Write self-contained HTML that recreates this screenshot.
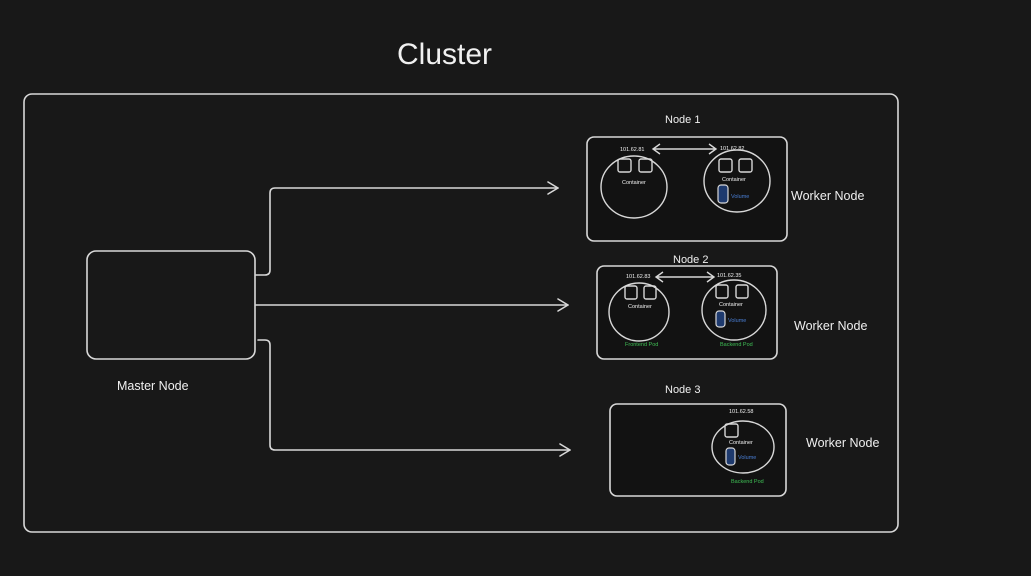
<!DOCTYPE html>
<html><head><meta charset="utf-8"><style>
html,body{margin:0;padding:0;background:#181818;}
svg{display:block;}
text{font-family:"Liberation Sans",sans-serif;}
</style></head><body>
<svg width="1031" height="576" viewBox="0 0 1031 576" xmlns="http://www.w3.org/2000/svg">
<rect width="1031" height="576" fill="#181818"/>
<g fill="none" stroke="#d8d8d8" stroke-width="1.6" stroke-linecap="round" stroke-linejoin="round">
<rect x="24" y="94" width="874" height="438" rx="8"/>
<rect x="87" y="251" width="168" height="108" rx="9"/>
<path d="M256 275 H265 Q270 275 270 270 V193 Q270 188 275 188 H558"/>
<path d="M548 182 L558 188 L548 194"/>
<path d="M256 305 H568"/>
<path d="M558 299 L568 305 L558 311"/>
<path d="M258 340 H265 Q270 340 270 345 V445 Q270 450 275 450 H570"/>
<path d="M560 444 L570 450 L560 456"/>
</g>
<g stroke="#d8d8d8" stroke-width="1.6" fill="#121212">
<rect x="587" y="137" width="200" height="104" rx="7"/>
<rect x="597" y="266" width="180" height="93" rx="7"/>
<rect x="610" y="404" width="176" height="92" rx="7"/>
</g>
<g fill="none" stroke="#d8d8d8" stroke-width="1.4">
<ellipse cx="634" cy="187" rx="33" ry="31"/>
<ellipse cx="737" cy="181" rx="33" ry="31"/>
<ellipse cx="639" cy="312" rx="30" ry="29"/>
<ellipse cx="734" cy="310" rx="32" ry="30"/>
<ellipse cx="743" cy="447" rx="31" ry="26"/>
<rect x="618" y="159" width="13" height="13" rx="2"/>
<rect x="639" y="159" width="13" height="13" rx="2"/>
<rect x="719" y="159" width="13" height="13" rx="2"/>
<rect x="739" y="159" width="13" height="13" rx="2"/>
<rect x="625" y="286" width="12" height="13" rx="2"/>
<rect x="644" y="286" width="12" height="13" rx="2"/>
<rect x="716" y="285" width="12" height="13" rx="2"/>
<rect x="736" y="285" width="12" height="13" rx="2"/>
<rect x="725" y="424" width="13" height="13" rx="2"/>
<path d="M653 149 H716 M660 144 L653 149 L660 154 M709 144 L716 149 L709 154"/>
<path d="M656 277 H714 M663 272 L656 277 L663 282 M707 272 L714 277 L707 282"/>
</g>
<g fill="#1e3a6e" stroke="#d8d8d8" stroke-width="1.2">
<rect x="718" y="185" width="10" height="18" rx="3"/>
<rect x="716" y="311" width="9" height="16" rx="3"/>
<rect x="726" y="448" width="9" height="17" rx="3"/>
</g>
<g fill="#f0f0f0">
<text x="397" y="64" font-size="30">Cluster</text>
<text x="117" y="390" font-size="12.5">Master Node</text>
<text x="665" y="123" font-size="11">Node 1</text>
<text x="673" y="263" font-size="11">Node 2</text>
<text x="665" y="393" font-size="11">Node 3</text>
<text x="791" y="200" font-size="12.5">Worker Node</text>
<text x="794" y="330" font-size="12.5">Worker Node</text>
<text x="806" y="447" font-size="12.5">Worker Node</text>
<g font-size="5.5">
<text x="620" y="151">101.62.81</text>
<text x="720" y="150">101.62.82</text>
<text x="626" y="278">101.62.83</text>
<text x="717" y="277">101.62.35</text>
<text x="729" y="413">101.62.58</text>
<text x="622" y="184">Container</text>
<text x="722" y="181">Container</text>
<text x="628" y="308">Container</text>
<text x="719" y="306">Container</text>
<text x="729" y="444">Container</text>
</g>
</g>
<g fill="#4a7fd6" font-size="5.5">
<text x="731" y="198">Volume</text>
<text x="728" y="322">Volume</text>
<text x="738" y="459">Volume</text>
</g>
<g fill="#3fbf55" font-size="5.5">
<text x="625" y="346">Frontend Pod</text>
<text x="720" y="346">Backend Pod</text>
<text x="731" y="483">Backend Pod</text>
</g>
</svg>
</body></html>
